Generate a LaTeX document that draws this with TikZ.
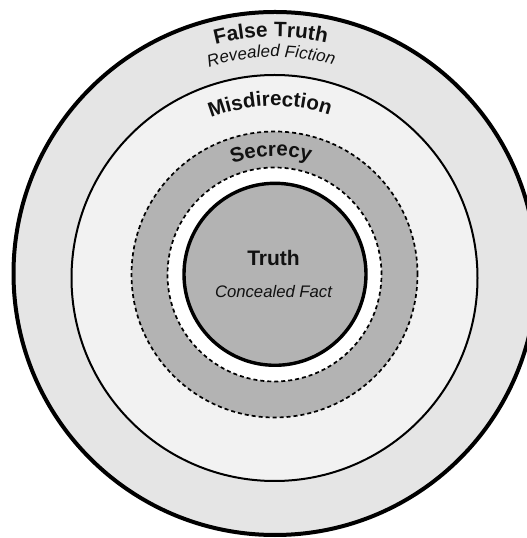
\documentclass[tikz,border=0pt]{standalone}
\usepackage{fontspec}
\setmainfont{Liberation Sans}
\usetikzlibrary{decorations.text}

\definecolor{ringouter}{HTML}{E5E5E5}
\definecolor{ringmid}{HTML}{F2F2F2}
\definecolor{ringgray}{HTML}{B3B3B3}
\definecolor{inktext}{HTML}{111111}

\tikzset{
  ringline/.style={draw=black},
  dashring/.style={draw=black, line width=1.7pt, dash pattern=on 4pt off 3pt},
  arclabel/.style={decorate, decoration={text along path, text align=center, text color=inktext}},
  centrelabel/.style={anchor=base, inner sep=0pt, text=inktext}
}

\begin{document}
\begin{tikzpicture}[x=1pt, y=1pt]
  \useasboundingbox (0,0) rectangle (527,538);
  \clip (0,0) rectangle (527,538);

  % nested rings, from the outside in
  \draw[ringline, line width=4pt, fill=ringouter] (275,264.5) circle[radius=261.5];
  \draw[ringline, line width=2pt, fill=ringmid] (274.5,260) circle[radius=203];
  \draw[dashring, fill=ringgray] (274.5,263.5) circle[radius=143];
  \draw[dashring, fill=white] (274.5,263.5) circle[radius=107];
  \draw[ringline, line width=3.4pt, fill=ringgray] (275,263.7) circle[radius=91];

  % curved ring labels
  \path[arclabel, decoration={text={|\bfseries\fontsize{20.8}{25}\selectfont|False Truth}}]
    (275,264.5) ++(181:236.5) arc[start angle=181, end angle=1, radius=236.5];
  \path[arclabel, decoration={text={|\itshape\fontsize{17}{20}\selectfont|Revealed Fiction}}]
    (275,264.5) ++(181:216.5) arc[start angle=181, end angle=1, radius=216.5];
  \path[arclabel, decoration={text={|\bfseries\fontsize{20.6}{25}\selectfont|Misdirection}}]
    (274.5,260) ++(181.5:172) arc[start angle=181.5, end angle=1.5, radius=172];
  \path[arclabel, decoration={text={|\bfseries\fontsize{20.5}{25}\selectfont|Secrecy}}]
    (274.5,264) ++(181.7:118) arc[start angle=181.7, end angle=1.7, radius=118];

  % core labels
  \node[centrelabel, font=\bfseries\fontsize{21}{25}\selectfont] (truth) at (273.5,272) {Truth};
  \node[centrelabel, font=\itshape\fontsize{16.7}{20}\selectfont] (fact) at (273.5,240) {Concealed Fact};
\end{tikzpicture}
\end{document}
